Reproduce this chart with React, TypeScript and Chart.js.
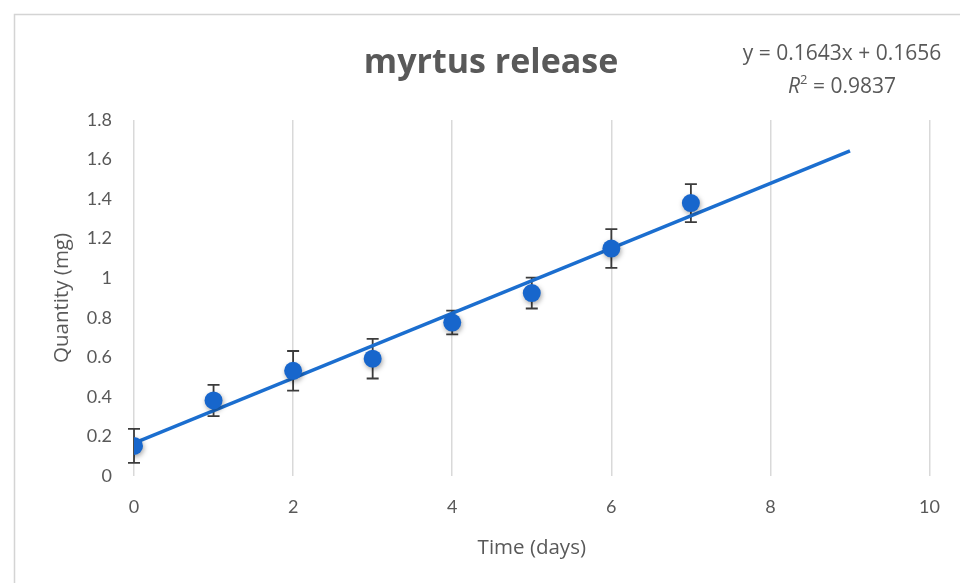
import React, { useEffect, useRef } from "react";
import { Chart, registerables } from "chart.js";

Chart.register(...registerables);

// ---- Data ----
const days = [0, 1, 2, 3, 4, 5, 6, 7];
const quantity = [0.152, 0.382, 0.532, 0.593, 0.776, 0.925, 1.15, 1.38];
const errors = [0.086, 0.079, 0.1, 0.1, 0.06, 0.078, 0.098, 0.096];
const trendSlope = 0.1643;
const trendIntercept = 0.1656;
const trendStartX = 0;
const trendEndX = 9;
const rSquared = 0.9837;
const titleText = "myrtus release";
const xAxisTitle = "Time (days)";
const yAxisTitle = "Quantity (mg)";

const FONT = '"Open Sans", "Noto Sans", sans-serif';
const TICK_FONT = 'Lato, "Open Sans", sans-serif';
const TEXT = "#595959";
const BLUE_POINT = "#1766cc";
const BLUE_LINE = "#1b6ecf";

const trendPoints = [trendStartX, trendEndX].map((x) => ({
  x,
  y: trendSlope * x + trendIntercept,
}));

const errorBarsPlugin = {
  id: "errorBars",
  beforeDatasetsDraw(chart: any) {
    const { ctx, scales } = chart;
    const x = scales.x;
    const y = scales.y;
    ctx.save();
    ctx.strokeStyle = "#3c3c3c";
    ctx.lineWidth = 1.8;
    days.forEach((d, i) => {
      const px = x.getPixelForValue(d);
      const top = y.getPixelForValue(quantity[i] + errors[i]);
      const bot = y.getPixelForValue(quantity[i] - errors[i]);
      ctx.beginPath();
      ctx.moveTo(px, top);
      ctx.lineTo(px, bot);
      ctx.moveTo(px - 6, top);
      ctx.lineTo(px + 6, top);
      ctx.moveTo(px - 6, bot);
      ctx.lineTo(px + 6, bot);
      ctx.stroke();
    });
    ctx.restore();
  },
};

const shadowPlugin = {
  id: "pointShadow",
  beforeDatasetDraw(chart: any, args: any) {
    if (args.index === 0) {
      const ctx = chart.ctx;
      ctx.save();
      ctx.shadowColor = "rgba(0,0,0,0.35)";
      ctx.shadowBlur = 5;
      ctx.shadowOffsetX = 1;
      ctx.shadowOffsetY = 2;
    }
  },
  afterDatasetDraw(chart: any, args: any) {
    if (args.index === 0) chart.ctx.restore();
  },
};

const decorPlugin = {
  id: "decor",
  beforeDraw(chart: any) {
    const ctx = chart.ctx;
    ctx.save();
    ctx.fillStyle = "#ffffff";
    ctx.fillRect(0, 0, chart.width, chart.height);
    ctx.strokeStyle = "#d4d4d4";
    ctx.lineWidth = 1.5;
    ctx.strokeRect(14.5, 14.5, chart.width + 20, chart.height + 20);
    ctx.restore();
  },
  afterDraw(chart: any) {
    const ctx = chart.ctx;
    ctx.save();
    ctx.fillStyle = TEXT;
    ctx.textBaseline = "middle";
    ctx.textAlign = "center";
    ctx.font = `bold 34px ${FONT}`;
    ctx.fillText(titleText, 491, 63);

    const eq = `y = ${trendSlope}x + ${trendIntercept}`;
    ctx.font = `21px ${FONT}`;
    ctx.fillText(eq, 842, 54);

    // R² line
    const italic = `italic 21px ${FONT}`;
    const normal = `21px ${FONT}`;
    const sup = `13px ${FONT}`;
    const rest = ` = ${rSquared}`;
    ctx.font = italic;
    const wR = ctx.measureText("R").width;
    ctx.font = sup;
    const w2 = ctx.measureText("2").width;
    ctx.font = normal;
    const wRest = ctx.measureText(rest).width;
    const total = wR + w2 + wRest;
    let cx = 842 - total / 2;
    ctx.textAlign = "left";
    ctx.font = italic;
    ctx.fillText("R", cx, 87);
    cx += wR;
    ctx.font = sup;
    ctx.fillText("2", cx, 80);
    cx += w2;
    ctx.font = normal;
    ctx.fillText(rest, cx, 87);
    ctx.restore();
  },
};

export default function App() {
  const ref = useRef<HTMLCanvasElement | null>(null);

  useEffect(() => {
    if (!ref.current) return;
    const chart = new Chart(ref.current, {
      type: "scatter",
      data: {
        datasets: [
          {
            label: "Quantity",
            data: days.map((d, i) => ({ x: d, y: quantity[i] })),
            backgroundColor: BLUE_POINT,
            borderColor: BLUE_POINT,
            pointRadius: 9,
            pointHoverRadius: 9,
            borderWidth: 0,
          },
          {
            label: "Trend",
            data: trendPoints,
            showLine: true,
            borderColor: BLUE_LINE,
            borderWidth: 3.5,
            pointRadius: 0,
            pointHoverRadius: 0,
          },
        ],
      },
      options: {
        responsive: false,
        animation: false,
        layout: { padding: { top: 120, left: 40, right: 30, bottom: 0 } },
        plugins: {
          legend: { display: false },
          tooltip: { enabled: false },
          title: { display: false },
        },
        scales: {
          x: {
            type: "linear",
            min: 0,
            max: 10,
            ticks: {
              stepSize: 2,
              color: TEXT,
              font: { family: TICK_FONT, size: 18 },
              padding: 20,
            },
            grid: { color: "#d9d9d9", lineWidth: 1.5, drawTicks: false },
            border: { display: false },
            title: {
              display: true,
              text: xAxisTitle,
              color: TEXT,
              font: { family: FONT, size: 20.5 },
              padding: { top: 10, bottom: 23 },
            },
            afterFit(scale: any) {
              scale.height = 107;
            },
          },
          y: {
            type: "linear",
            min: 0,
            max: 1.8,
            ticks: {
              stepSize: 0.2,
              color: TEXT,
              font: { family: TICK_FONT, size: 18 },
              padding: 22,
              callback: (v: any) => String(Number(Number(v).toFixed(1))),
            },
            grid: { display: false, drawTicks: false },
            border: { display: false },
            title: {
              display: true,
              text: yAxisTitle,
              color: TEXT,
              font: { family: FONT, size: 20.5 },
              padding: { top: 10, bottom: 0 },
            },
            afterFit(scale: any) {
              scale.width = 94;
            },
          },
        },
      },
      plugins: [decorPlugin, errorBarsPlugin, shadowPlugin],
    });
    return () => chart.destroy();
  }, []);

  return (
    <div style={{ position: "absolute", left: 0, top: 0, width: 960, height: 583 }}>
      <canvas ref={ref} width={960} height={583} />
    </div>
  );
}
